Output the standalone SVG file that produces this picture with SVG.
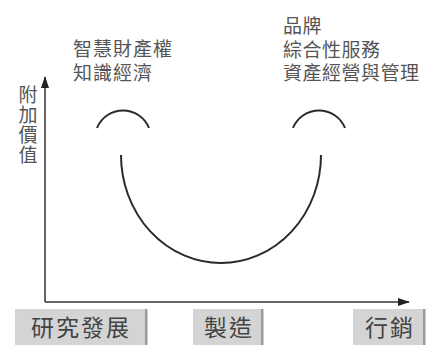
<svg xmlns="http://www.w3.org/2000/svg" width="429" height="345" viewBox="0 0 429 345">
<style>
.note{font-family:"Liberation Sans","Noto Sans CJK TC",sans-serif;font-size:19px;fill:#555;}
.vert{writing-mode:vertical-rl;letter-spacing:1px;}
.lab{font-family:"Liberation Sans","Noto Sans CJK TC",sans-serif;font-size:23px;fill:#444;letter-spacing:2px;text-anchor:middle;}
.box{fill:#d4d4d4;}
.shadow{fill:#9a9a9a;}
.curve{fill:none;stroke:#2a2a2a;stroke-width:2;}
.axis{fill:none;stroke:#333;stroke-width:1.5;}
</style>
<defs>
<marker id="ah" viewBox="0 0 12 8" refX="11" refY="4" markerWidth="12" markerHeight="8" markerUnits="userSpaceOnUse" orient="auto">
<path d="M0,0 L12,4 L0,8 Z" fill="#222"/>
</marker>
</defs>
<rect width="429" height="345" fill="#fff"/>
<g id="connectors">
<path class="axis" d="M45,302 L45,77" marker-end="url(#ah)"/>
<path class="axis" d="M45,302 L409,302" marker-end="url(#ah)"/>
</g>
<g id="curves">
<path class="curve" d="M97,128 A28 28 0 0 1 149,128"/>
<path class="curve" d="M293,128 A28 28 0 0 1 345,128"/>
<path class="curve" d="M121,155 A100 108 0 0 0 321,155"/>
</g>
<g id="yLabel">
<text class="note vert" x="26" y="85">附加價值</text>
</g>
<g id="leftNote">
<text class="note" letter-spacing="1"><tspan x="73" y="55.5">智慧財產權</tspan><tspan x="73" y="79.5">知識經濟</tspan></text>
</g>
<g id="rightNote">
<text class="note" letter-spacing="0.5"><tspan x="283" y="33">品牌</tspan><tspan x="283" y="56.5">綜合性服務</tspan><tspan x="283" y="80">資產經營與管理</tspan></text>
</g>
<g id="rd">
<rect class="box" x="15" y="309" width="131" height="36"/>
<rect class="shadow" x="145" y="309" width="2.5" height="36"/>
<text class="lab" x="81" y="336">研究發展</text>
</g>
<g id="mfg">
<rect class="box" x="193" y="309" width="69" height="36"/>
<rect class="shadow" x="261" y="309" width="2.5" height="36"/>
<text class="lab" x="229" y="336">製造</text>
</g>
<g id="mkt">
<rect class="box" x="353" y="309" width="71" height="36"/>
<rect class="shadow" x="423" y="309" width="2.5" height="36"/>
<text class="lab" x="390" y="336">行銷</text>
</g>
</svg>
